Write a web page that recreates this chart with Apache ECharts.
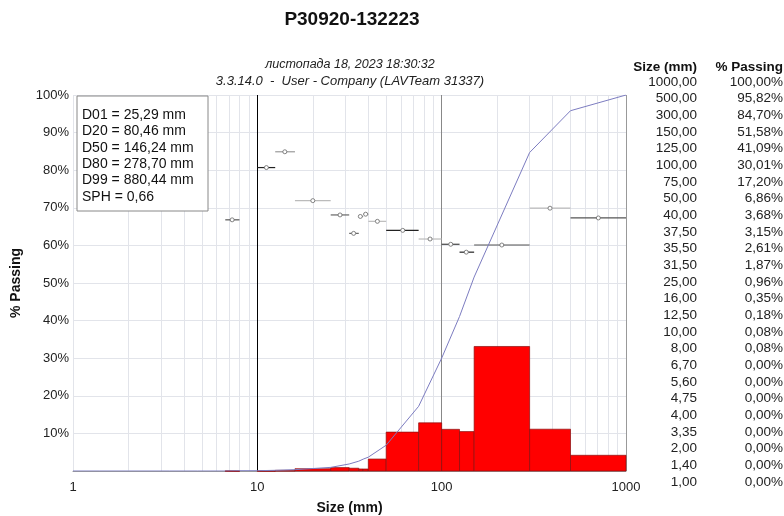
<!DOCTYPE html>
<html>
<head>
<meta charset="utf-8">
<script src="https://cdn.jsdelivr.net/npm/echarts@6.0.0/dist/echarts.min.js"></script>
<style>
  html, body { margin: 0; padding: 0; background: #fff; }
  #chart { width: 784px; height: 516px; }
</style>
</head>
<body>
<div id="chart"></div>
<script>
const FONT = '"Liberation Sans", Arial, sans-serif'

// cumulative table (right side)
const sizes = [1000, 500, 300, 150, 125, 100, 75, 50, 40, 37.5, 35.5, 31.5, 25, 16, 12.5, 10, 8, 6.7, 5.6, 4.75, 4, 3.35, 2, 1.4, 1]
const passing = [100, 95.82, 84.70, 51.58, 41.09, 30.01, 17.20, 6.86, 3.68, 3.15, 2.61, 1.87, 0.96, 0.35, 0.18, 0.08, 0.08, 0, 0, 0, 0, 0, 0, 0, 0]

// histogram bins (retained % per size class)
const binLo = [6.7, 10, 12.5, 16, 25, 31.5, 35.5, 37.5, 40, 50, 75, 100, 125, 150, 300, 500]
const binHi = [8, 12.5, 16, 25, 31.5, 35.5, 37.5, 40, 50, 75, 100, 125, 150, 300, 500, 1000]
const retained = [0.08, 0.10, 0.17, 0.61, 0.91, 0.74, 0.54, 0.53, 3.18, 10.34, 12.81, 11.08, 10.49, 33.12, 11.12, 4.18]

// marker points with horizontal range bars
const ptX = [7.3, 11.2, 14.1, 20.0, 28.1, 33.3, 36.2, 38.7, 44.8, 61.5, 86.5, 112, 136, 212, 387, 708]
const ptY = [66.8, 80.7, 84.9, 71.9, 68.1, 63.2, 67.7, 68.3, 66.4, 64.0, 61.7, 60.3, 58.2, 60.1, 69.9, 67.3]
const ptShade = ['#555', '#222', '#999', '#bbb', '#666', '#666', '#777', '#888', '#bbb', '#222', '#bbb', '#444', '#222', '#555', '#bbb', '#555']

const stats = ['D01 = 25,29 mm', 'D20 = 80,46 mm', 'D50 = 146,24 mm', 'D80 = 278,70 mm', 'D99 = 880,44 mm', 'SPH = 0,66']
const minorGrid = [2, 3, 4, 5, 6, 7, 8, 9, 20, 30, 40, 50, 60, 70, 80, 90, 200, 300, 400, 500, 600, 700, 800, 900]

const titleText = 'P30920-132223'
const subLine1 = 'листопада 18, 2023 18:30:32'
const subLine2 = '3.3.14.0  -  User - Company (LAVTeam 31337)'

const fmt = v => v.toFixed(2).replace('.', ',')

const chart = echarts.init(document.getElementById('chart'))

const graphics = [
  { type: 'text', x: 352, y: 20, style: { text: titleText, font: 'bold 19px ' + FONT, fill: '#111', align: 'center', verticalAlign: 'middle' } },
  { type: 'text', x: 350, y: 65, style: { text: subLine1, font: 'italic 12.5px ' + FONT, fill: '#222', align: 'center', verticalAlign: 'middle' } },
  { type: 'text', x: 350, y: 81, style: { text: subLine2, font: 'italic 13px ' + FONT, fill: '#222', align: 'center', verticalAlign: 'middle' } },
  { type: 'rect', shape: { x: 77, y: 96, width: 131, height: 115 }, style: { fill: '#fff', stroke: '#888', lineWidth: 1 }, z: 100 },
  { type: 'text', x: 697, y: 67, style: { text: 'Size (mm)', font: 'bold 13.5px ' + FONT, fill: '#111', align: 'right', verticalAlign: 'middle' } },
  { type: 'text', x: 783, y: 67, style: { text: '% Passing', font: 'bold 13.5px ' + FONT, fill: '#111', align: 'right', verticalAlign: 'middle' } }
]
stats.forEach((s, i) => {
  graphics.push({ type: 'text', x: 82, y: 115 + i * 16.4, z: 101, style: { text: s, font: '14px ' + FONT, fill: '#111', verticalAlign: 'middle' } })
})
sizes.forEach((s, i) => {
  const y = 82 + i * 16.67
  graphics.push({ type: 'text', x: 697, y, style: { text: fmt(s), font: '13.5px ' + FONT, fill: '#222', align: 'right', verticalAlign: 'middle' } })
  graphics.push({ type: 'text', x: 783, y, style: { text: fmt(passing[i]) + '%', font: '13.5px ' + FONT, fill: '#222', align: 'right', verticalAlign: 'middle' } })
})

chart.setOption({
  animation: false,
  grid: { left: 73, right: 158, top: 95, bottom: 45, outerBoundsMode: 'none' },
  graphic: graphics,
  xAxis: {
    type: 'log', logBase: 10, min: 1, max: 1000,
    name: 'Size (mm)', nameLocation: 'middle', nameGap: 30,
    nameTextStyle: { fontFamily: FONT, fontWeight: 'bold', fontSize: 14, color: '#111' },
    axisLine: { lineStyle: { color: '#999' } },
    axisTick: { show: false },
    splitLine: { show: false },
    axisLabel: { fontFamily: FONT, fontSize: 13, color: '#222', margin: 10, formatter: v => String(Math.round(v)) }
  },
  yAxis: {
    type: 'value', min: 0, max: 100, interval: 10,
    name: '% Passing', nameLocation: 'middle', nameGap: 50, nameRotate: 90,
    nameTextStyle: { fontFamily: FONT, fontWeight: 'bold', fontSize: 14, color: '#111' },
    axisLine: { show: false },
    axisTick: { show: false },
    splitLine: { lineStyle: { color: '#e2e4ea', width: 1 } },
    axisLabel: { fontFamily: FONT, fontSize: 13, color: '#222', margin: 4, formatter: v => v === 0 ? '' : v + '%' }
  },
  series: [
    {
      name: 'grid', type: 'line', z: 0, silent: true,
      data: [[1, 0], [1000, 0]], symbol: 'none', lineStyle: { opacity: 0 },
      markLine: {
        z: 0, silent: true, symbol: 'none', label: { show: false },
        lineStyle: { color: '#e2e4ea', width: 1, type: 'solid' },
        data: minorGrid.map(v => ({ xAxis: v }))
          .concat([
            { xAxis: 1, lineStyle: { color: '#e2e4ea', type: 'solid' } },
            { xAxis: 10, lineStyle: { color: '#000', width: 1, type: 'solid' } },
            { xAxis: 100, lineStyle: { color: '#888', width: 1, type: 'solid' } },
            { xAxis: 1000, lineStyle: { color: '#999', width: 1, type: 'solid' } }
          ])
      }
    },
    {
      name: 'retained', type: 'custom', z: 3,
      data: binLo.map((lo, i) => [lo, binHi[i], retained[i]]),
      encode: { x: [0, 1], y: 2 },
      renderItem: (params, api) => {
        const p0 = api.coord([api.value(0), 0])
        const p1 = api.coord([api.value(1), api.value(2)])
        return {
          type: 'rect',
          shape: { x: p0[0], y: p1[1], width: p1[0] - p0[0], height: Math.max(0.8, p0[1] - p1[1]) },
          style: { fill: '#ff0000', stroke: '#8a1010', lineWidth: 0.7 }
        }
      }
    },
    {
      name: 'points', type: 'custom', z: 4,
      data: ptX.map((x, i) => [binLo[i], binHi[i], x, ptY[i]]),
      encode: { x: [0, 1, 2], y: 3 },
      renderItem: (params, api) => {
        const a = api.coord([api.value(0), api.value(3)])
        const b = api.coord([api.value(1), api.value(3)])
        const c = api.coord([api.value(2), api.value(3)])
        const col = ptShade[params.dataIndex]
        return {
          type: 'group',
          children: [
            { type: 'line', shape: { x1: a[0], y1: a[1], x2: b[0], y2: b[1] }, style: { stroke: col, lineWidth: 1.2 } },
            { type: 'circle', shape: { cx: c[0], cy: c[1], r: 2 }, style: { fill: '#fff', stroke: '#666', lineWidth: 0.8 } }
          ]
        }
      }
    },
    {
      name: 'passing', type: 'line', z: 5,
      data: sizes.map((s, i) => [s, passing[i]]),
      symbol: 'none',
      lineStyle: { color: '#7c7cc0', width: 1 }
    }
  ]
})
</script>
</body>
</html>
